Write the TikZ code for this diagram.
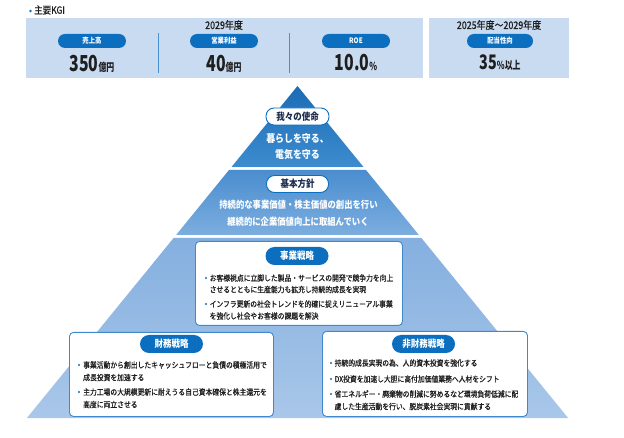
\documentclass[tikz,border=0pt]{standalone}
\usepackage{fontspec}
\setmainfont{Noto Sans CJK JP}
\newfontfamily\jp[FakeStretch=0.85]{Noto Sans CJK JP}
\newfontfamily\jpb[FakeStretch=0.85,FakeBold=0.7]{Noto Sans CJK JP}
\newfontfamily\jpn[FakeStretch=0.72]{Noto Sans CJK JP}
\newcommand\myfs[1]{\fontsize{#1}{#1}\selectfont}
\definecolor{panelbg}{RGB}{201,219,240}
\definecolor{pillblue}{RGB}{11,110,191}
\definecolor{divblue}{RGB}{74,144,208}
\definecolor{lone}{RGB}{28,108,182}
\definecolor{lonebot}{RGB}{61,140,207}
\definecolor{ltwo}{RGB}{74,141,207}
\definecolor{ltwobot}{RGB}{124,174,223}
\definecolor{lthree}{RGB}{132,175,223}
\definecolor{lthreebot}{RGB}{169,199,233}
\definecolor{boxborder}{RGB}{63,136,204}
\definecolor{navytext}{RGB}{29,45,80}
\definecolor{darktext}{RGB}{30,30,30}
\begin{document}
\begin{tikzpicture}[x=1pt,y=-1pt,
  kpill/.style={fill=pillblue, text=white, rounded corners=7pt, inner sep=0pt, minimum width=68pt, minimum height=14pt, font=\jp\bfseries\myfs{7.5}},
  wpill/.style={fill=white, draw=pillblue, line width=0.9pt, text=navytext, rounded corners=8pt, inner sep=0pt, minimum width=62pt, minimum height=17pt, font=\jp\bfseries\myfs{10}},
  bpill/.style={fill=pillblue, text=white, rounded corners=9pt, inner sep=0pt, minimum width=63pt, minimum height=18pt, font=\jp\bfseries\myfs{10}},
  wbox/.style={fill=white, draw=boxborder, line width=0.9pt, rounded corners=4pt, inner sep=0pt, anchor=north west},
  body/.style={anchor=west, inner sep=0pt, text=darktext, font=\jpb\myfs{8}},
  bdot/.style={circle, fill=pillblue, inner sep=0pt, minimum size=2.2pt},
  wtext/.style={text=white, inner sep=0pt, font=\jp\bfseries\myfs{10.5}},
  ltext/.style={text=white, inner sep=0pt, font=\jp\bfseries\myfs{9.8}},
  year/.style={text=darktext, inner sep=0pt, font=\jpb\myfs{10.5}},
  num/.style={text=darktext, inner sep=0pt, anchor=base, font=\jpn\bfseries},
  panel/.style={fill=panelbg, draw=none, inner sep=0pt, anchor=north west},
]
\useasboundingbox (0,0) rectangle (624,438);
\fill[white] (0,0) rectangle (624,438);

% ---------- KGI ----------
\node[bdot, minimum size=2.6pt] (kgidot) at (30.5,11) {};
\node[anchor=west, inner sep=0pt, text=darktext, font=\jpb\myfs{10}] (kgititle) at (34,10) {主要KGI};

\node[panel, minimum width=397pt, minimum height=60pt] (panelA) at (26,18) {};
\node[panel, minimum width=140pt, minimum height=60pt] (panelB) at (429,18) {};

\coordinate (divAt) at (158,33); \coordinate (divAb) at (158,73);
\coordinate (divBt) at (289,33); \coordinate (divBb) at (289,73);
\draw[divblue, line width=1pt] (divAt) -- (divAb);
\draw[divblue, line width=1pt] (divBt) -- (divBb);

\node[year] (yearA) at (224,25) {2029年度};
\node[year] (yearB) at (499,25) {2025年度～2029年度};

\node[kpill] (p1) at (92,41) {売上高};
\node[kpill] (p2) at (224,41) {営業利益};
\node[kpill] (p3) at (356,41) {ROE};
\node[kpill, minimum width=66pt] (p4) at (500,41) {配当性向};

\node[num] (n1) at (92,72) {{\myfs{22}350}{\myfs{11}億円}};
\node[num] (n2) at (224,72) {{\myfs{22}40}{\myfs{11}億円}};
\node[num] (n3) at (356,71) {{\myfs{22}10.0}{\myfs{11}\%}};
\node[num] (n4) at (500,70) {{\myfs{20}35}{\myfs{11}\%以上}};

% ---------- pyramid ----------
\shade[top color=lone, bottom color=lonebot] (297.5,86) -- (231.5,167) -- (363.5,167) -- cycle;
\shade[top color=ltwo, bottom color=ltwobot] (229,170) -- (366,170) -- (418.9,235) -- (176.1,235) -- cycle;
\shade[top color=lthree, bottom color=lthreebot] (173.6,238) -- (421.4,238) -- (568.1,418) -- (26.9,418) -- cycle;

% layer 1
\node[wpill, minimum width=63pt] (mission) at (297.5,116.5) {我々の使命};
\node[wtext] (mis1) at (297.5,139) {暮らしを守る、};
\node[wtext] (mis2) at (297.5,155) {電気を守る};

% layer 2
\node[wpill] (policy) at (297.5,184) {基本方針};
\node[ltext] (pol1) at (298.5,205) {持続的な事業価値・株主価値の創出を行い};
\node[ltext] (pol2) at (298,222) {継続的に企業価値向上に取組んでいく};

% layer 3 : business strategy
\node[wbox, minimum width=207pt, minimum height=84pt] (bizbox) at (195,241) {};
\node[bpill] (biz) at (297,256) {事業戦略};
\node[bdot] (bd1) at (206,278) {};
\node[body] (b1a) at (209.5,278) {お客様視点に立脚した製品・サービスの開発で競争力を向上};
\node[body] (b1b) at (209.5,289.5) {させるとともに生産能力も拡充し持続的成長を実現};
\node[bdot] (bd2) at (206,304) {};
\node[body] (b2a) at (209.5,304) {インフラ更新の社会トレンドを的確に捉えリニューアル事業};
\node[body] (b2b) at (209.5,316) {を強化し社会やお客様の課題を解決};

% financial strategy
\node[wbox, minimum width=204pt, minimum height=84pt] (finbox) at (69,332) {};
\node[bpill] (fin) at (171.5,344) {財務戦略};
\node[bdot] (fd1) at (79,365) {};
\node[body] (f1a) at (83,365) {事業活動から創出したキャッシュフローと負債の積極活用で};
\node[body] (f1b) at (83,377.5) {成長投資を加速する};
\node[bdot] (fd2) at (79,392) {};
\node[body] (f2a) at (83,392) {主力工場の大規模更新に耐えうる自己資本確保と株主還元を};
\node[body] (f2b) at (83,404.5) {高度に両立させる};

% non-financial strategy
\node[wbox, minimum width=205pt, minimum height=85pt] (nfbox) at (322,331) {};
\node[bpill] (nfin) at (423.5,344) {非財務戦略};
\node[bdot] (nd1) at (331,363) {};
\node[body] (nf1) at (334.5,363) {持続的成長実現の為、人的資本投資を強化する};
\node[bdot] (nd2) at (331,379) {};
\node[body] (nf2) at (334.5,379) {DX投資を加速し大胆に高付加価値業務へ人材をシフト};
\node[bdot] (nd3) at (331,394) {};
\node[body] (nf3a) at (334.5,394) {省エネルギー・廃棄物の削減に努めるなど環境負荷低減に配};
\node[body] (nf3b) at (334.5,406.5) {慮した生産活動を行い、脱炭素社会実現に貢献する};
\end{tikzpicture}
\end{document}
